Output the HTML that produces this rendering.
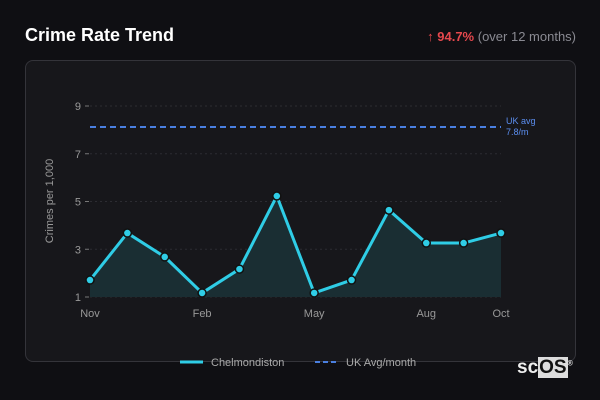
<!DOCTYPE html>
<html><head><meta charset="utf-8"><style>
body{margin:0;width:600px;height:400px;background:#0f0f13;font-family:"Liberation Sans",sans-serif;overflow:hidden;position:relative}
.t{position:absolute;left:25px;top:25px;color:#fff;font-weight:bold;font-size:18px}
.chg{position:absolute;right:24px;top:29px;font-size:13px;color:#8a8a92}
.chg b{color:#e5484d}
.card{position:absolute;left:25px;top:60px;width:549px;height:300px;border:1px solid #34343a;border-radius:8px;background:#17171b}
.logo{position:absolute;left:517px;top:357px;font-size:19px;font-weight:bold;color:#eee}
.logo span{background:#ddd;color:#111;padding:0 1px}
</style></head><body>
<div class="t">Crime Rate Trend</div>
<div class="chg"><b>↑ 94.7%</b> (over 12 months)</div>
<div class="card"></div>
<svg id="c" width="600" height="400" style="position:absolute;left:0;top:0"></svg>
<div class="logo">sc<span>OS</span><sup style="font-size:7px">®</sup></div>
<script>
const months=["Nov","Dec","Jan","Feb","Mar","Apr","May","Jun","Jul","Aug","Sep","Oct"];
const values=[1.71,3.68,2.68,1.17,2.17,5.23,1.17,1.71,4.64,3.26,3.26,3.68];
const ukAvg=8.12;
const yTicks=[1,3,5,7,9];
const xLabels=["Nov","Feb","May","Aug","Oct"];
const svg=document.getElementById('c');const NS='http://www.w3.org/2000/svg';
const x0=90,x1=501,y0=297,y1=106;
const X=i=>x0+i*(x1-x0)/(months.length-1);
const Y=v=>y0-(v-1)*(y0-y1)/8;
function el(t,a,p){const e=document.createElementNS(NS,t);for(const k in a)e.setAttribute(k,a[k]);(p||svg).appendChild(e);return e;}
yTicks.forEach(v=>{
 const g=el('line',{x1:x0,x2:x1,y1:Y(v),y2:Y(v),stroke:'#2c2c32','stroke-dasharray':'2,3'});
 
 
 const tk=el('line',{x1:x0-5,x2:x0-1,y1:Y(v),y2:Y(v),stroke:'#777'});
 
 
 const t=el('text',{x:x0-9,y:Y(v)+4,'text-anchor':'end','font-size':11,fill:'#999'});t.textContent=v;
 
 
});
xLabels.forEach(m=>{const i=months.indexOf(m);
 const t=el('text',{x:X(i),y:317,'text-anchor':'middle','font-size':11,fill:'#999'});t.textContent=m;
 
 
});
const yt=el('text',{transform:'translate(53,201) rotate(-90)','text-anchor':'middle','font-size':11,fill:'#999'});yt.textContent='Crimes per 1,000';


const pts=values.map((v,i)=>X(i)+','+Y(v)).join(' ');
const area=el('polygon',{points:X(0)+','+y0+' '+pts+' '+X(values.length-1)+','+y0,fill:'#1a2e33'});


const uk=el('line',{x1:x0,x2:x1,y1:Y(ukAvg),y2:Y(ukAvg),stroke:'#4a7fe0','stroke-width':2,'stroke-dasharray':'6,4'});


const ul=el('text',{x:506,y:Y(ukAvg)-3,'font-size':9,fill:'#5b8ef0'});ul.textContent='UK avg';


const ul2=el('text',{x:506,y:Y(ukAvg)+8,'font-size':9,fill:'#5b8ef0'});ul2.textContent='7.8/m';


const ln=el('polyline',{points:pts,fill:'none',stroke:'#2fcde6','stroke-width':3,'stroke-linejoin':'round'});


values.forEach((v,i)=>{const c=el('circle',{cx:X(i),cy:Y(v),r:4,fill:'#2fcde6',stroke:'#111',"stroke-width":1.5});
 
 
});
const l1=el('line',{x1:180,x2:203,y1:362,y2:362,stroke:'#2fcde6','stroke-width':3});


const t1=el('text',{x:211,y:366,'font-size':11,fill:'#aaa'});t1.textContent='Chelmondiston';


const l2=el('line',{x1:315,x2:338,y1:362,y2:362,stroke:'#4a7fe0','stroke-width':2,'stroke-dasharray':'5,3'});


const t2=el('text',{x:346,y:366,'font-size':11,fill:'#aaa'});t2.textContent='UK Avg/month';


</script>
</body></html>
